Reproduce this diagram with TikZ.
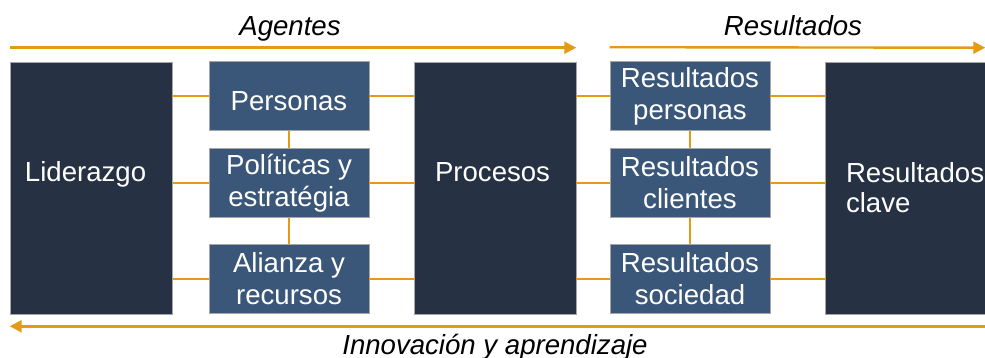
\documentclass[tikz,border=0pt]{standalone}
\usepackage{fontspec}
\setmainfont{Liberation Sans}
\usetikzlibrary{arrows.meta}
\definecolor{darkbox}{HTML}{263243}
\definecolor{midbox}{HTML}{3A5779}
\definecolor{linegold}{HTML}{E39B14}
\begin{document}
\begin{tikzpicture}[x=0.5pt,y=-0.5pt,
    font=\fontsize{13.8}{16}\selectfont,
    bigbox/.style={fill=darkbox,draw=gray!70,line width=0.3pt,text=white,align=left,minimum width=81pt,minimum height=126pt},
    smallbox/.style={fill=midbox,draw=gray!70,line width=0.3pt,text=white,align=center,minimum width=80pt,minimum height=34.5pt,inner sep=0pt,
      execute at begin node={\rule{0pt}{15pt}}},
    link/.style={draw=linegold,line width=0.9pt},
    flow/.style={draw=linegold,line width=1.2pt,-{Triangle[length=6pt,width=6pt]}},
    caption/.style={font=\fontsize{13.8}{16}\selectfont\itshape,anchor=base}]
  \useasboundingbox (0,0) rectangle (985,358);
  % columns of boxes
  \node[bigbox,text width=66pt,text depth=16pt] (lid) at (91,188) {Liderazgo};
  \node[smallbox] (per) at (289,96) {Personas};
  \node[smallbox] (pol) at (289,183) {Políticas y\\estratégia};
  \node[smallbox] (ali) at (289,279) {Alianza y\\recursos};
  \node[bigbox,text width=60pt,text depth=16pt] (pro) at (495,188) {Procesos};
  \node[smallbox] (rpe) at (690,96) {Resultados\\personas};
  \node[smallbox] (rcl) at (690,183) {Resultados\\clientes};
  \node[smallbox] (rso) at (690,279) {Resultados\\sociedad};
  \node[bigbox,minimum width=80pt,text width=59pt,font=\fontsize{13.8}{15}\selectfont] (rcv) at (905,188) {Resultados\\clave};
  % connectors
  \foreach \a/\b in {per/pol,pol/ali,rpe/rcl,rcl/rso}
    \draw[link] (\a.south) -- (\b.north);
  \foreach \n in {per,pol,ali}{
    \draw[link] (\n.west -| lid.east) -- (\n.west);
    \draw[link] (\n.east) -- (\n.east -| pro.west);
  }
  \foreach \n in {rpe,rcl,rso}{
    \draw[link] (\n.west -| pro.east) -- (\n.west);
    \draw[link] (\n.east) -- (\n.east -| rcv.west);
  }
  % flows
  \draw[flow] ([yshift=7pt]lid.north west) -- ([yshift=7pt]pro.north east);
  \draw[flow] ([yshift=7pt]rpe.north west) -- ([yshift=7pt]rcv.north east);
  \draw[flow] ([yshift=-6pt]rcv.south east) -- ([yshift=-6pt]lid.south west);
  \node[caption] (agt) at (290,36) {Agentes};
  \node[caption] (res) at (793,36) {Resultados};
  \node[caption] (inn) at (495,354) {Innovación y aprendizaje};
\end{tikzpicture}
\end{document}
